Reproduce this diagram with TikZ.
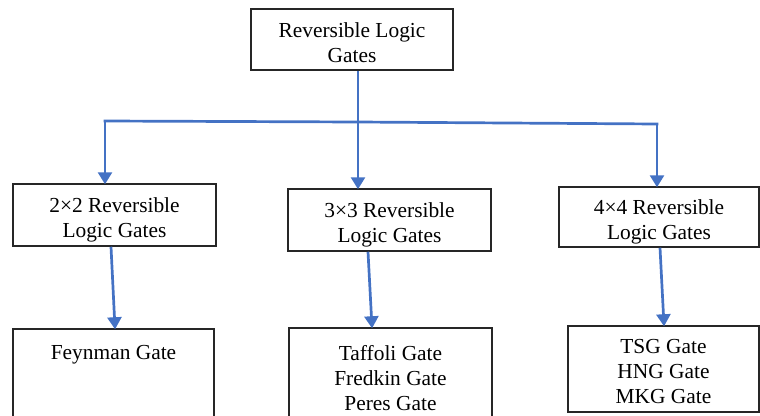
\documentclass[tikz,border=0pt]{standalone}
\usepackage{fontspec}
\setmainfont{Liberation Serif}
\usetikzlibrary{arrows.meta}
\definecolor{linkblue}{HTML}{4472C4}
\definecolor{frame}{HTML}{262626}
\tikzset{
  gatebox/.style={draw=frame, line width=1.5pt, inner sep=0pt},
  boxtext/.style={inner sep=0pt, align=center,
    font=\fontsize{21.4}{25}\selectfont, text=black},
  link/.style={draw=linkblue, line width=2.7pt},
  linkarrow/.style={link, -{Triangle[width=14pt,length=12pt]}, shorten >=-1pt},
}
\begin{document}
\begin{tikzpicture}[x=1pt,y=-1pt]
  \useasboundingbox (0,0) rectangle (760,415);
  \clip (0,0) rectangle (760,415);

  % root
  \node[gatebox, minimum width=202pt, minimum height=61pt] (root) at (352,39.5) {};
  \node[boxtext] (rootT) at ([yshift=-3pt]root.center) {Reversible Logic\\Gates};

  % families by size
  \node[gatebox, minimum width=203pt, minimum height=62pt] (two) at (114.5,215) {};
  \node[boxtext] (twoT) at ([yshift=-5pt]two.center) {2×2 Reversible\\Logic Gates};
  \node[gatebox, minimum width=203pt, minimum height=62pt] (three) at (389.5,220) {};
  \node[boxtext] (threeT) at ([yshift=-5pt]three.center) {3×3 Reversible\\Logic Gates};
  \node[gatebox, minimum width=200pt, minimum height=60pt] (four) at (659,217) {};
  \node[boxtext] (fourT) at ([yshift=-5pt]four.center) {4×4 Reversible\\Logic Gates};

  % members of each family
  \node[gatebox, minimum width=201pt, minimum height=100pt] (g2) at (113.5,379) {};
  \node[boxtext, anchor=base] (g2T) at (113.5,359) {Feynman Gate};
  \node[gatebox, minimum width=203pt, minimum height=100pt] (g3) at (390.5,378) {};
  \node[boxtext] (g3T) at (g3.center) {Taffoli Gate\\Fredkin Gate\\Peres Gate};
  \node[gatebox, minimum width=191pt, minimum height=86pt] (g4) at (663.5,369) {};
  \node[boxtext] (g4T) at ([yshift=-3pt]g4.center) {TSG Gate\\HNG Gate\\MKG Gate};

  % branching bus
  \coordinate (hub) at (358,122);
  \coordinate (busL) at (105,121);
  \coordinate (busR) at (657,124);
  \draw[link] (root.south -| hub) -- (hub);
  \draw[link, line cap=rect] (busL) -- (hub) -- (busR);
  \draw[linkarrow] (busL) -- (busL |- two.north);
  \draw[linkarrow] (hub) -- (hub |- three.north);
  \draw[linkarrow] (busR) -- (busR |- four.north);

  % family to members
  \draw[linkarrow] ([xshift=-3.5pt]two.south) -- ([xshift=1.5pt]g2.north);
  \draw[linkarrow] ([xshift=-21.5pt]three.south) -- ([xshift=-18.5pt]g3.north);
  \draw[linkarrow] ([xshift=1pt]four.south) -- ([xshift=0.5pt]g4.north);
\end{tikzpicture}
\end{document}
